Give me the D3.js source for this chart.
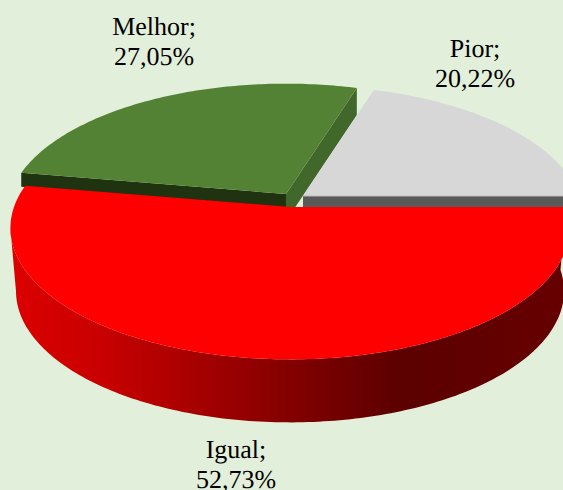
<!DOCTYPE html>
<html>
<head>
<meta charset="utf-8">
<script src="https://cdn.jsdelivr.net/npm/d3@7"></script>
<style>
    html, body { margin: 0; padding: 0; background: #e2efda; }
    svg { display: block; }
    text { font-family: "Liberation Serif", serif; font-size: 26px; fill: #000; text-rendering: geometricPrecision; }
</style>
</head>
<body>
<svg id="chart"></svg>
<script>
const categories = ["Igual", "Melhor", "Pior"];
const values = [52.73, 27.05, 20.22];

const width = 563, height = 490;
const tilt = 0.16;          // perspective of the disc, front looks bigger than back
const depth = 63;
const bottomShrink = 0.98;

const svg = d3.select("#chart").attr("width", width).attr("height", height);

const grad = svg.append("defs").append("linearGradient")
    .attr("id", "redSide")
    .attr("gradientUnits", "userSpaceOnUse")
    .attr("x1", 0).attr("x2", width).attr("y1", 0).attr("y2", 0);
[[0.02, "#dc0000"], [0.18, "#c80000"], [0.36, "#a40000"], [0.52, "#820000"], [0.71, "#5c0000"], [1, "#660000"]]
    .forEach(s => grad.append("stop").attr("offset", s[0]).attr("stop-color", s[1]));

const xScale = d3.scaleLinear().domain([-1, 1]).range([14, 566]);
const yScale = d3.scaleLinear().domain([-1, 1]).range([79, 335]);

// project a point of the unit disc to the screen
function project(angle, r = 1) {
    const x = Math.sin(angle) * r, y = -Math.cos(angle) * r;
    const w = 1 - tilt * y;
    return [xScale(x / w), yScale(y / w)];
}

function arcPoints(a0, a1) {
    const n = Math.max(2, Math.ceil(Math.abs(a1 - a0) * 60));
    return d3.range(n + 1).map(i => project(a0 + (a1 - a0) * i / n));
}

const line = d3.line();
const arcs = d3.pie().sort(null).startAngle(Math.PI / 2).endAngle(Math.PI * 2.5)(values);
const [igual, melhor, pior] = arcs;

const apex = project(0, 0);
const move = (p, dx, dy) => [p[0] + dx, p[1] + dy];

function sliceTop(arc, dx, dy) {
    const pts = [apex, ...arcPoints(arc.startAngle, arc.endAngle)].map(p => move(p, dx, dy));
    return line(pts) + "Z";
}

// side wall along one radius of an exploded slice
function radialWall(angle, dx, dy, h) {
    const p = move(project(angle), dx, dy), c = move(apex, dx, dy);
    return line([c, p, move(p, 0, h), move(c, 0, h)]) + "Z";
}

const melhorShift = [-4, -13], piorShift = [13, -11];

// back slices first, the red one covers their feet
svg.append("path").attr("d", radialWall(melhor.startAngle, ...melhorShift, 14)).attr("fill", "#203311");
svg.append("path").attr("d", radialWall(melhor.endAngle, ...melhorShift, 27)).attr("fill", "#41672a");
svg.append("path").attr("d", sliceTop(melhor, ...melhorShift)).attr("fill", "#548235");

svg.append("path").attr("d", radialWall(pior.endAngle, ...piorShift, 14)).attr("fill", "#595959");
svg.append("path").attr("d", sliceTop(pior, ...piorShift)).attr("fill", "#d7d7d7");
svg.append("path")
    .attr("d", line([move(apex, ...piorShift), move(project(pior.endAngle), ...piorShift)]))
    .attr("stroke", "#bdbdbd").attr("stroke-width", 1).attr("fill", "none");

// outer wall of the red slice, up to where the disc is widest
const samples = d3.range(igual.startAngle, igual.endAngle, 0.01);
const leftmost = d3.least(samples, a => project(a)[0]);
const topRim = arcPoints(igual.startAngle, leftmost);
const bottomRim = topRim.map(p => [apex[0] + (p[0] - apex[0]) * bottomShrink, p[1] + depth]).reverse();
svg.append("path").attr("d", line([...topRim, ...bottomRim]) + "Z").attr("fill", "url(#redSide)");
svg.append("path").attr("d", sliceTop(igual, 0, 0)).attr("fill", "#ff0000");

// labels
const labelPos = [[236, 458], [154, 35], [475, 57]];
categories.forEach((c, i) => {
    const t = svg.append("text").attr("text-anchor", "middle")
        .attr("transform", `translate(${labelPos[i][0]}, ${labelPos[i][1]})`);
    t.append("tspan").attr("x", 0).attr("y", 0).text(c + ";");
    t.append("tspan").attr("x", 0).attr("y", 29.5).text(values[i].toFixed(2).replace(".", ",") + "%");
});
</script>
</body>
</html>
